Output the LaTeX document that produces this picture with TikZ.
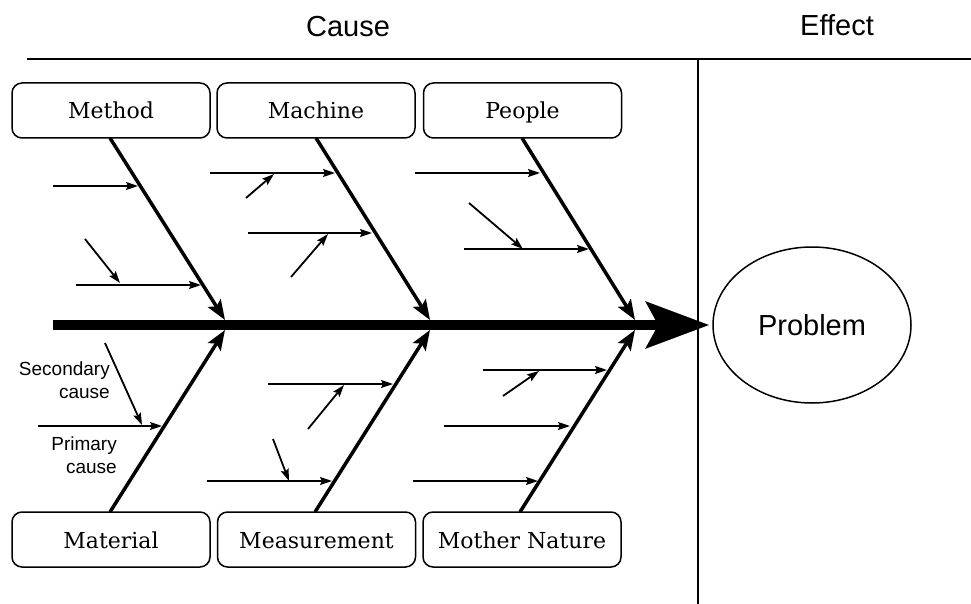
\documentclass[tikz,border=0pt]{standalone}
\usepackage{fontspec}
\setmainfont{Liberation Sans}
\newfontfamily\boxfont{DejaVu Serif}
\usetikzlibrary{arrows.meta,shapes.geometric}
\tikzset{
  catbox/.style={draw, line width=1.5pt, rounded corners=10pt, minimum width=198pt, minimum height=55pt, inner sep=0pt, text height=17pt, text depth=0pt, font=\boxfont\fontsize{22}{26}\selectfont},
  bone/.style={line width=3.5pt, -{Stealth[length=20pt,width=15pt,inset=4pt]}},
  cause/.style={line width=1.8pt, -{Stealth[length=12pt,width=8pt,inset=2pt]}},
  spine/.style={line width=10pt, -{Stealth[length=63pt,width=46pt,inset=12pt]}},
  frame/.style={line width=2pt},
  headtext/.style={font=\fontsize{29}{34}\selectfont},
  smalltext/.style={font=\fontsize{19}{23}\selectfont, align=right, inner sep=0pt}
}
\begin{document}
\begin{tikzpicture}[x=1pt,y=-1pt]
\useasboundingbox (0,0) rectangle (971,604);
% frame
\coordinate (tl) at (27,59);
\coordinate (tr) at (971,59);
\coordinate (vt) at (698,59);
\coordinate (vb) at (698,604);
\draw[frame] (tl) -- (tr);
\draw[frame] (vt) -- (vb);
\node[headtext] (causeh) at (348,27) {Cause};
\node[headtext] (effecth) at (837,25) {Effect};
% problem
\node[draw, ellipse, line width=1.5pt, minimum width=198pt, minimum height=156pt, inner sep=0pt, headtext] (problem) at (812,325) {Problem};
% spine
\coordinate (sp0) at (53,325);
\draw[spine, shorten >=3pt] (sp0) -- (problem.west);
% boxes
\node[catbox] (method) at (111,110.5) {Method};
\node[catbox] (machine) at (316,110.5) {Machine};
\node[catbox] (people) at (522.5,110.5) {People};
\node[catbox] (material) at (111,539.5) {Material};
\node[catbox] (measure) at (316.5,539.5) {Measurement};
\node[catbox] (nature) at (522,539.5) {Mother Nature};
% joints
\coordinate (j1) at (225,320);
\coordinate (j2) at (430,320);
\coordinate (j3) at (635,320);
\coordinate (k1) at (225,330);
\coordinate (k2) at (430,330);
\coordinate (k3) at (635,330);
\coordinate (b1) at (110,138);
\coordinate (b2) at (316,138);
\coordinate (b3) at (522,138);
\coordinate (c1) at (110,512);
\coordinate (c2) at (315,512);
\coordinate (c3) at (520,512);
\draw[bone] (b1) -- (j1);
\draw[bone] (b2) -- (j2);
\draw[bone] (b3) -- (j3);
\draw[bone] (c1) -- (k1);
\draw[bone] (c2) -- (k2);
\draw[bone] (c3) -- (k3);
% Method causes
\coordinate (m1s) at (53,186);  \coordinate (m1e) at (138,186);
\coordinate (m2s) at (76,285);  \coordinate (m2e) at (201,285);
\coordinate (m3s) at (85,239);  \coordinate (m3e) at (120,283);
\draw[cause] (m1s) -- (m1e);
\draw[cause] (m2s) -- (m2e);
\draw[cause] (m3s) -- (m3e);
% Machine causes
\coordinate (n1s) at (210,173); \coordinate (n1e) at (335,173);
\coordinate (n2s) at (246,198); \coordinate (n2e) at (274,174);
\coordinate (n3s) at (248,233); \coordinate (n3e) at (372,233);
\coordinate (n4s) at (291,277); \coordinate (n4e) at (328,234);
\draw[cause] (n1s) -- (n1e);
\draw[cause] (n2s) -- (n2e);
\draw[cause] (n3s) -- (n3e);
\draw[cause] (n4s) -- (n4e);
% People causes
\coordinate (p1s) at (415,173); \coordinate (p1e) at (540,173);
\coordinate (p2s) at (464,249); \coordinate (p2e) at (589,249);
\coordinate (p3s) at (469,203); \coordinate (p3e) at (523,249);
\draw[cause] (p1s) -- (p1e);
\draw[cause] (p2s) -- (p2e);
\draw[cause] (p3s) -- (p3e);
% Material causes
\coordinate (q1s) at (38,426);  \coordinate (q1e) at (162,426);
\coordinate (q2s) at (105,343); \coordinate (q2e) at (142,425);
\draw[cause] (q1s) -- (q1e);
\draw[cause] (q2s) -- (q2e);
\node[smalltext, anchor=east] (seclab) at (110,380) {Secondary\\cause};
\node[smalltext, anchor=east] (primlab) at (117,455) {Primary\\cause};
% Measurement causes
\coordinate (r1s) at (268,384); \coordinate (r1e) at (393,384);
\coordinate (r2s) at (308,429); \coordinate (r2e) at (344,385);
\coordinate (r3s) at (207,481); \coordinate (r3e) at (332,481);
\coordinate (r4s) at (273,439); \coordinate (r4e) at (289,481);
\draw[cause] (r1s) -- (r1e);
\draw[cause] (r2s) -- (r2e);
\draw[cause] (r3s) -- (r3e);
\draw[cause] (r4s) -- (r4e);
% Mother Nature causes
\coordinate (s1s) at (483,370); \coordinate (s1e) at (607,370);
\coordinate (s2s) at (503,396); \coordinate (s2e) at (539,371);
\coordinate (s3s) at (444,426); \coordinate (s3e) at (570,426);
\coordinate (s4s) at (413,481); \coordinate (s4e) at (538,481);
\draw[cause] (s1s) -- (s1e);
\draw[cause] (s2s) -- (s2e);
\draw[cause] (s3s) -- (s3e);
\draw[cause] (s4s) -- (s4e);
\end{tikzpicture}
\end{document}
